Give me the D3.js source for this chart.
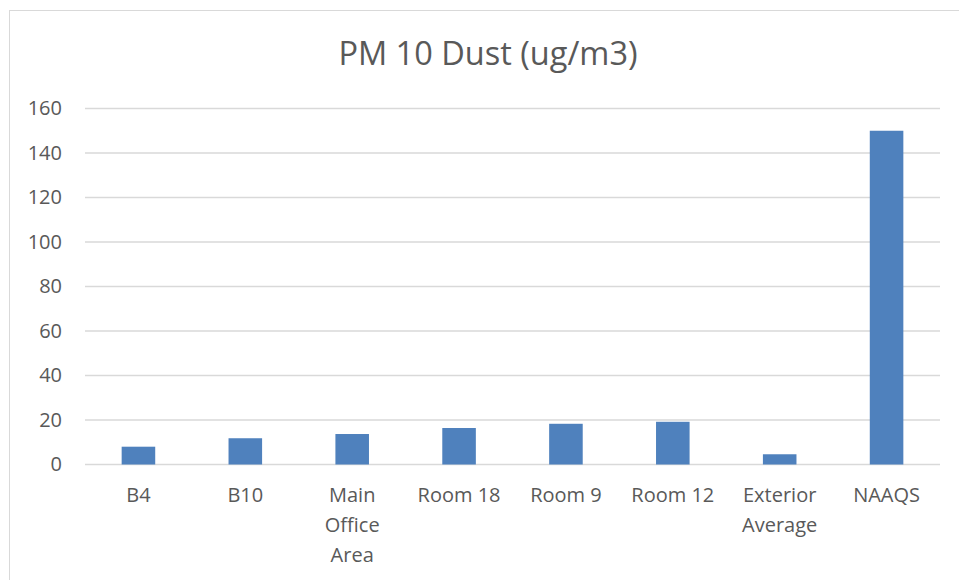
<!DOCTYPE html>
<html>
<head>
<meta charset="utf-8">
<script src="https://cdn.jsdelivr.net/npm/d3@7"></script>
<style>
  body { margin: 0; background: #fff; }
  text { font-family: "Open Sans", sans-serif; fill: #595959; }
</style>
</head>
<body>
<div id="chart"></div>
<script>
var svgWidth = 959;
var svgHeight = 580;

var margin = { top: 108.5, right: 19, bottom: 115.5, left: 85 };
var width = svgWidth - margin.left - margin.right;
var height = svgHeight - margin.top - margin.bottom;

// Chart data
var categories = ["B4", "B10", "Main Office Area", "Room 18", "Room 9", "Room 12", "Exterior Average", "NAAQS"];
var values = [8, 11.8, 13.7, 16.4, 18.3, 19.2, 4.6, 150];
var yTicks = [0, 20, 40, 60, 80, 100, 120, 140, 160];

var svg = d3.select("#chart")
  .append("svg")
  .attr("width", svgWidth)
  .attr("height", svgHeight);

// outer chart border
svg.append("rect")
  .attr("x", 9.5)
  .attr("y", 10.5)
  .attr("width", svgWidth + 10)
  .attr("height", svgHeight + 10)
  .attr("fill", "none")
  .attr("stroke", "#d9d9d9")
  .attr("stroke-width", 1);

// title
svg.append("text")
  .attr("x", 488)
  .attr("y", 65)
  .attr("text-anchor", "middle")
  .style("font-size", "32.5px")
  .text("PM 10 Dust (ug/m3)");

var chartGroup = svg.append("g")
  .attr("transform", `translate(${margin.left}, ${margin.top})`);

var xScale = d3.scaleBand()
  .domain(categories)
  .range([0, width])
  .paddingInner(0.686)
  .paddingOuter(0.343);

var yScale = d3.scaleLinear()
  .domain([0, 160])
  .range([height, 0]);

// gridlines
chartGroup.append("g")
  .selectAll("line")
  .data(yTicks)
  .enter().append("line")
  .attr("x1", 0)
  .attr("x2", width)
  .attr("y1", d => yScale(d))
  .attr("y2", d => yScale(d))
  .attr("stroke", "#d9d9d9")
  .attr("stroke-width", 1.5);

// y axis labels
var leftAxis = d3.axisLeft(yScale).tickValues(yTicks).tickSize(0).tickPadding(23);
var yAxis = chartGroup.append("g").call(leftAxis);
yAxis.select(".domain").remove();
yAxis.selectAll("text")
  .style("font-size", "20px")
  .style("fill", "#595959")
  .style("font-family", "'Open Sans', sans-serif");

// bars
chartGroup.selectAll(".bar")
  .data(values)
  .enter().append("rect")
  .attr("class", "bar")
  .attr("x", (d, i) => xScale(categories[i]))
  .attr("y", d => yScale(d))
  .attr("width", xScale.bandwidth())
  .attr("height", d => height - yScale(d))
  .attr("fill", "#4f81bd");

// x axis labels
var bottomAxis = d3.axisBottom(xScale).tickSize(0).tickPadding(23);
var xAxis = chartGroup.append("g")
  .attr("transform", `translate(0, ${height})`)
  .call(bottomAxis);
xAxis.select(".domain").remove();
xAxis.selectAll("text")
  .style("font-size", "20px")
  .style("fill", "#595959")
  .style("font-family", "'Open Sans', sans-serif")
  .call(wrap, xScale.step() - 8);

// wrap long category labels onto several lines
function wrap(texts, maxWidth) {
  texts.each(function() {
    var text = d3.select(this);
    var words = text.text().split(/\s+/);
    var y = text.attr("y");
    var dy = parseFloat(text.attr("dy"));
    text.text(null);
    var line = [];
    var lineNo = 0;
    var tspan = text.append("tspan").attr("x", 0).attr("y", y).attr("dy", dy + "em");
    words.forEach(function(word) {
      line.push(word);
      tspan.text(line.join(" "));
      if (tspan.node().getComputedTextLength() > maxWidth && line.length > 1) {
        line.pop();
        tspan.text(line.join(" "));
        line = [word];
        lineNo++;
        tspan = text.append("tspan").attr("x", 0).attr("y", y)
          .attr("dy", (dy + lineNo * 1.5) + "em")
          .text(word);
      }
    });
  });
}
</script>
</body>
</html>
